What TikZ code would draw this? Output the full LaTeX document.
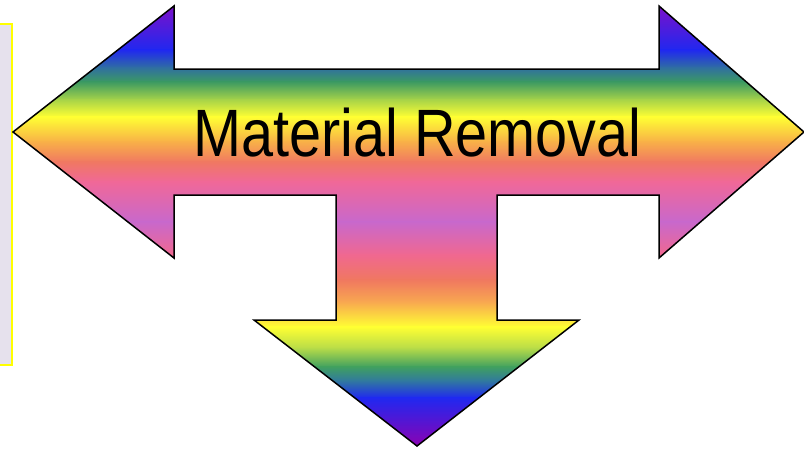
\documentclass[tikz,border=0pt]{standalone}
\usepackage{fontspec}
\usepackage{graphicx}
\setmainfont{Liberation Sans}
\definecolor{c0}{HTML}{8010C8}
\definecolor{c1}{HTML}{2028F0}
\definecolor{c2}{HTML}{3070A0}
\definecolor{c3}{HTML}{3C9A62}
\definecolor{c4}{HTML}{A8D448}
\definecolor{c5}{HTML}{FFFF33}
\definecolor{c6}{HTML}{F8B048}
\definecolor{c7}{HTML}{F07862}
\definecolor{c8}{HTML}{F06898}
\definecolor{c9}{HTML}{C868CC}
\definecolor{c10}{HTML}{F06890}
\definecolor{c11}{HTML}{F07860}
\definecolor{c12}{HTML}{F8A850}
\definecolor{c13}{HTML}{FFFF33}
\definecolor{c14}{HTML}{B8DC48}
\definecolor{c15}{HTML}{40A060}
\definecolor{c16}{HTML}{3078A0}
\definecolor{c17}{HTML}{2028F0}
\definecolor{c18}{HTML}{9000B0}
\definecolor{boxfill}{HTML}{E6E1ED}
\definecolor{boxline}{HTML}{FFFF00}
\tikzset{
  outline/.style={draw=black, line width=1.5pt, line join=miter},
  sidebox/.style={fill=boxfill, draw=boxline, line width=1.5pt},
  title/.style={font=\fontsize{67}{67}\selectfont, text=black, anchor=base, inner sep=0pt}
}
\begin{document}
\begin{tikzpicture}[x=1pt,y=-1pt]
\useasboundingbox (0,0) rectangle (804,448);
\fill[white] (0,0) rectangle (804,448);
% side box
\path[sidebox] (-5,24) rectangle (12,365);
% arrow shape
\def\arrowpath{(13,132) -- (174,6) -- (174,69) -- (659,69) -- (659,6) -- (804,132) -- (659,258) -- (659,195) -- (497,195) -- (497,320) -- (579,320) -- (417,446) -- (254,320) -- (336,320) -- (336,195) -- (174,195) -- (174,258) -- cycle}
\begin{scope}
  \clip \arrowpath;
  \foreach \ya/\ca/\yb/\cb in {4/c0/50/c1, 50/c1/68/c2, 68/c2/82/c3, 82/c3/100/c4, 100/c4/117/c5, 117/c5/142/c6, 142/c6/162/c7, 162/c7/182/c8, 182/c8/222/c9, 222/c9/255/c10, 255/c10/280/c11, 280/c11/302/c12, 302/c12/327/c13, 327/c13/348/c14, 348/c14/367/c15, 367/c15/381/c16, 381/c16/398/c17, 398/c17/448/c18}{
    \shade[top color=\ca, bottom color=\cb] (0,\ya-0.3) rectangle (804,\yb+0.3);
  }
\end{scope}
\path[outline] \arrowpath;
\node[title] (t) at (417.5,156) {\scalebox{0.86}[1]{Material Removal}};
\end{tikzpicture}
\end{document}
